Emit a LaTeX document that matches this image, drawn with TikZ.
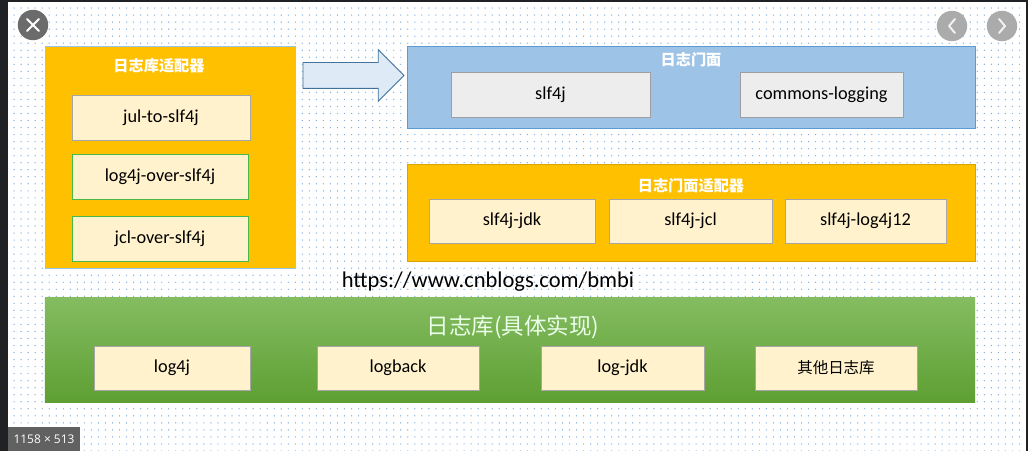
\documentclass[tikz,border=0pt]{standalone}
\usepackage{fontspec}
\setmainfont{Carlito}
\newfontfamily\cjk{Noto Sans CJK SC}
\newfontfamily\uifont{Open Sans}
\usepackage{tikz}
\usetikzlibrary{shapes.arrows, patterns.meta, positioning}
\definecolor{adaptorange}{HTML}{FFC000}
\definecolor{adaptborder}{HTML}{D9A300}
\definecolor{facadeblue}{HTML}{9DC3E6}
\definecolor{facadeborder}{HTML}{5B9BD5}
\definecolor{itemfill}{HTML}{FFF2CC}
\definecolor{grayfill}{HTML}{EDEDED}
\definecolor{libtop}{HTML}{84BC60}
\definecolor{libbottom}{HTML}{5E9F33}
\definecolor{arrowfill}{HTML}{DEEBF7}
\definecolor{arrowborder}{HTML}{41719C}
\definecolor{dotblue}{HTML}{7FAEDF}
\definecolor{chrome}{HTML}{202124}

\begin{document}
\begin{tikzpicture}[
    x=0.025cm, y=-0.025cm,
    every node/.style={font=\fontsize{13pt}{15pt}\selectfont},
    panel/.style={draw, rectangle, inner sep=0pt, line width=0.6pt},
    item/.style={draw=gray!70, fill=itemfill, rectangle, minimum height=1.1cm, inner sep=0pt, line width=0.6pt},
    greenitem/.style={item, draw=green!45!gray},
    grayitem/.style={item, fill=grayfill, draw=gray!75},
    ptitle/.style={text=white, font=\cjk\bfseries\fontsize{10.8pt}{12pt}\selectfont},
    roundbtn/.style={circle, minimum size=0.76cm, inner sep=0pt},
    btnmark/.style={white, line width=1.4pt, line cap=round, line join=round}
]

\useasboundingbox (0,0) rectangle (1028,451);

% ===== Fondo del visor =====
\fill[white] (0,0) rectangle (1028,451);
\fill[pattern={Dots[distance=5pt, radius=0.5pt]}, pattern color=dotblue] (8,2) rectangle (1026,451);
\fill[chrome] (0,0) rectangle (8,451);
\fill[chrome] (0,0) rectangle (1028,2);
\fill[chrome] (1026,0) rectangle (1028,451);

% ===== Adaptadores de libreria (izquierda) =====
\node[panel, fill=adaptorange, draw=facadeblue, minimum width=6.25cm, minimum height=5.55cm] (libadapt) at (170,157) {};
\node[ptitle] (libadapt_t) at (159,66) {日志库适配器};
\node[item, minimum width=4.45cm, minimum height=1.125cm] (jul) at (161,117.5) {jul-to-slf4j};
\node[greenitem, minimum width=4.4cm, minimum height=1.125cm] (log4jover) at (160,176.5) {log4j-over-slf4j};
\node[greenitem, minimum width=4.4cm, minimum height=1.125cm] (jclover) at (160,238.5) {jcl-over-slf4j};

% flecha de bloque hacia la fachada
\node[single arrow, draw=arrowborder, fill=arrowfill, line width=0.6pt,
      minimum height=2.525cm, inner xsep=0pt, inner ysep=0.3125cm,
      single arrow head extend=0.32cm] (bigarrow) at (347,75.5) {};

% ===== Fachada de logging =====
\node[panel, fill=facadeblue, draw=facadeborder, minimum width=14.2cm, minimum height=2.05cm] (facade) at (691,87) {};
\node[ptitle] (facade_t) at (691,60) {日志门面};
\node[grayitem, minimum width=4.975cm, minimum height=1.125cm] (slf4j) at (550.5,94.5) {slf4j};
\node[grayitem, minimum width=4.075cm, minimum height=1.125cm] (commons) at (821.5,94.5) {commons-logging};

% ===== Adaptadores de fachada =====
\node[panel, fill=adaptorange, draw=adaptborder, minimum width=14.2cm, minimum height=2.425cm] (facadapt) at (691,212.5) {};
\node[ptitle] (facadapt_t) at (691,186) {日志门面适配器};
\node[item, minimum width=4.15cm] (sjdk) at (512,221) {slf4j-jdk};
\node[item, minimum width=4.075cm] (sjcl) at (690.5,221) {slf4j-jcl};
\node[item, minimum width=4.025cm] (slog4j) at (865.5,221) {slf4j-log4j12};

% url
\node[font=\fontsize{16pt}{18pt}\selectfont] (url) at (488,282) {https://www.cnblogs.com/bmbi};

% ===== Implementaciones =====
\node[panel, draw=none, top color=libtop, bottom color=libbottom, minimum width=23.25cm, minimum height=2.6cm] (impl) at (510,350) {};
\node[text=green!8!white, font=\cjk\fontsize{16pt}{18pt}\selectfont] (impl_t) at (513,327) {日志库(具体实现)};
\node[item, minimum width=3.9cm] (log4j) at (172,368) {log4j};
\node[item, minimum width=4.05cm] (logback) at (398,368) {logback};
\node[item, minimum width=4.075cm] (logjdk) at (622.5,368) {log-jdk};
\node[item, minimum width=4.05cm, font=\cjk\fontsize{11pt}{13pt}\selectfont] (others) at (836,368) {其他日志库};

% ===== Controles del visor =====
\node[roundbtn, fill=black!58] (closebtn) at (33,25) {};
\draw[btnmark] ([shift={(-6,-6)}]closebtn.center) -- ([shift={(6,6)}]closebtn.center);
\draw[btnmark] ([shift={(-6,6)}]closebtn.center) -- ([shift={(6,-6)}]closebtn.center);
\node[roundbtn, fill=black!33] (prevbtn) at (952,26) {};
\draw[btnmark, white!90!gray] ([shift={(3,-7)}]prevbtn.center) -- ([shift={(-3,0)}]prevbtn.center) -- ([shift={(3,7)}]prevbtn.center);
\node[roundbtn, fill=black!33] (nextbtn) at (1002,26) {};
\draw[btnmark, white!90!gray] ([shift={(-3,-7)}]nextbtn.center) -- ([shift={(3,0)}]nextbtn.center) -- ([shift={(-3,7)}]nextbtn.center);
\node[fill=black!62, text=white, minimum width=1.8cm, minimum height=0.6cm, inner sep=0pt,
      font=\uifont\fontsize{8.5pt}{10pt}\selectfont] (sizetag) at (44,439) {1158 × 513};

\end{tikzpicture}
\end{document}
